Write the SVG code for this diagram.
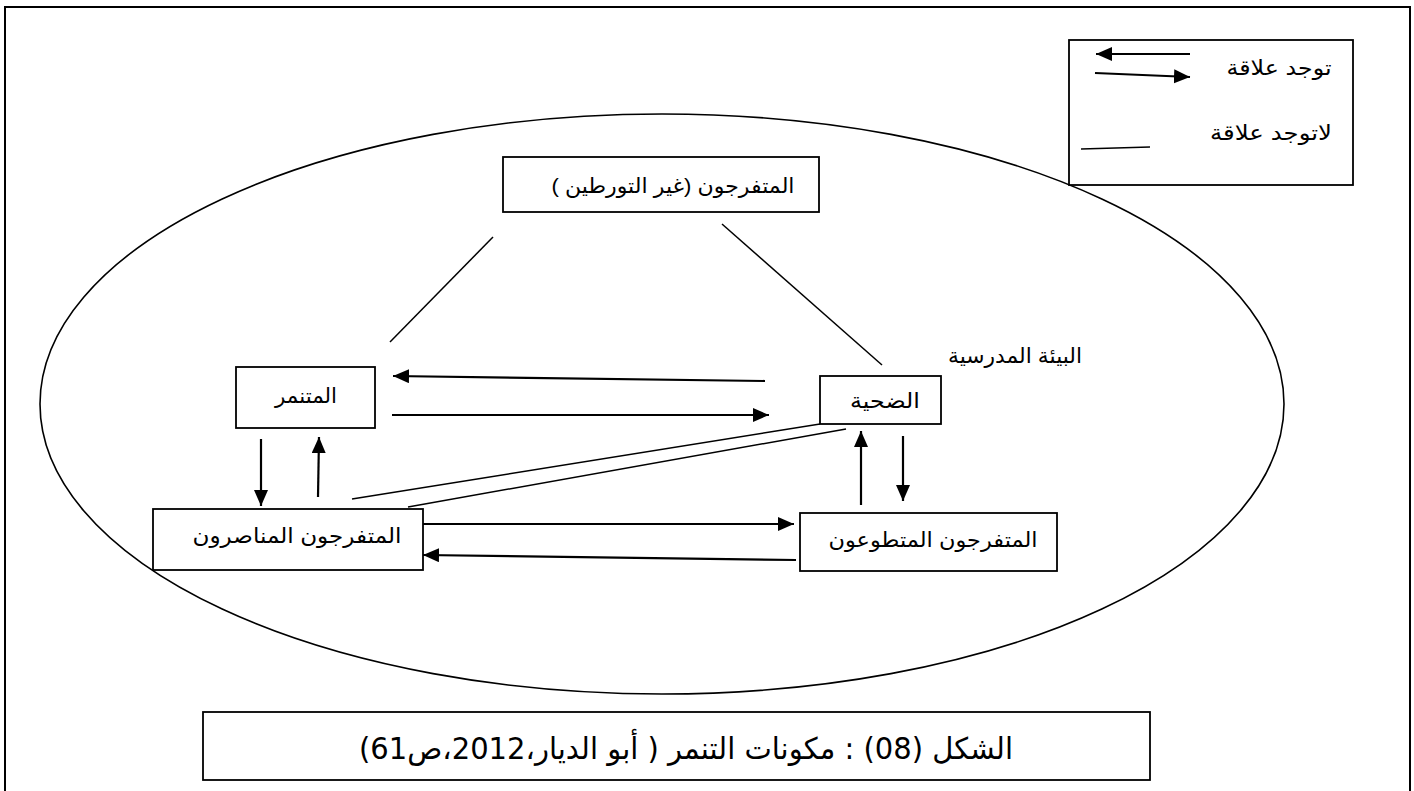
<svg xmlns="http://www.w3.org/2000/svg" width="1414" height="791" viewBox="0 0 1414 791">
<style>
.box{fill:#fff;stroke:#000;stroke-width:1.8}
.ln{stroke:#000;stroke-width:1.5;fill:none}
.ar{stroke:#000;stroke-width:2.2;fill:none;marker-end:url(#ah)}
.t{font-family:"Liberation Sans","DejaVu Sans",sans-serif;font-size:21px;fill:#000;text-anchor:middle;direction:rtl}
.cap{font-family:"DejaVu Sans","Liberation Sans",sans-serif;font-size:30px;fill:#000;text-anchor:middle;direction:rtl}
</style>
<defs>
<marker id="ah" markerUnits="userSpaceOnUse" markerWidth="18" markerHeight="16" refX="16" refY="7" orient="auto">
<path d="M0,0 L16,7 L0,14 z" fill="#000"/>
</marker>
</defs>
<rect width="1414" height="791" fill="#fff"/>
<path d="M5,800 V7 H1410 V800" fill="none" stroke="#000" stroke-width="2"/>
<ellipse id="school" cx="662" cy="404" rx="622" ry="290" fill="none" stroke="#000" stroke-width="1.6"/>
<text class="t" x="1015" y="363" textLength="134" lengthAdjust="spacingAndGlyphs">البيئة المدرسية</text>

<g id="connectors">
<line class="ln" x1="493" y1="237" x2="390" y2="342"/>
<line class="ln" x1="722" y1="224" x2="882" y2="365"/>
<line class="ar" x1="765" y1="381" x2="393" y2="376"/>
<line class="ar" x1="392" y1="415" x2="769" y2="415"/>
<line class="ln" x1="352" y1="499" x2="820" y2="424"/>
<line class="ln" x1="408" y1="507" x2="846" y2="429"/>
<line class="ar" x1="423" y1="524" x2="794" y2="524"/>
<line class="ar" x1="796" y1="560" x2="423" y2="555"/>
<line class="ar" x1="261" y1="439" x2="261" y2="506"/>
<line class="ar" x1="318" y1="497" x2="319" y2="437"/>
<line class="ar" x1="903" y1="436" x2="903" y2="501"/>
<line class="ar" x1="861" y1="505" x2="861" y2="431"/>
</g>

<g id="node-nonbystanders">
<rect class="box" x="503" y="157" width="316" height="55"/>
<text class="t" x="673" y="193" textLength="243" lengthAdjust="spacingAndGlyphs">المتفرجون (غير التورطين )</text>
</g>
<g id="node-bully">
<rect class="box" x="236" y="367" width="139" height="61"/>
<text class="t" x="306" y="403" textLength="62" lengthAdjust="spacingAndGlyphs">المتنمر</text>
</g>
<g id="node-victim">
<rect class="box" x="820" y="376" width="121" height="48"/>
<text class="t" x="885" y="408" textLength="70" lengthAdjust="spacingAndGlyphs">الضحية</text>
</g>
<g id="node-supporters">
<rect class="box" x="153" y="509" width="270" height="61"/>
<text class="t" x="297" y="543" textLength="209" lengthAdjust="spacingAndGlyphs">المتفرجون المناصرون</text>
</g>
<g id="node-volunteers">
<rect class="box" x="800" y="513" width="257" height="58"/>
<text class="t" x="933" y="547" textLength="209" lengthAdjust="spacingAndGlyphs">المتفرجون المتطوعون</text>
</g>

<g id="legend">
<rect class="box" x="1069" y="40" width="284" height="145"/>
<line class="ar" x1="1190" y1="54" x2="1096" y2="54"/>
<line class="ar" x1="1095" y1="73" x2="1190" y2="77"/>
<line class="ln" x1="1081" y1="149" x2="1150" y2="147"/>
<text class="t" x="1279" y="75" textLength="105" lengthAdjust="spacingAndGlyphs">توجد علاقة</text>
<text class="t" x="1271" y="140" textLength="122" lengthAdjust="spacingAndGlyphs">لاتوجد علاقة</text>
</g>

<g id="caption">
<rect class="box" x="203" y="712" width="947" height="68"/>
<text class="cap" x="686" y="759" textLength="654" lengthAdjust="spacingAndGlyphs">الشكل (08) : مكونات التنمر ( أبو الديار،2012،ص61)</text>
</g>
</svg>
